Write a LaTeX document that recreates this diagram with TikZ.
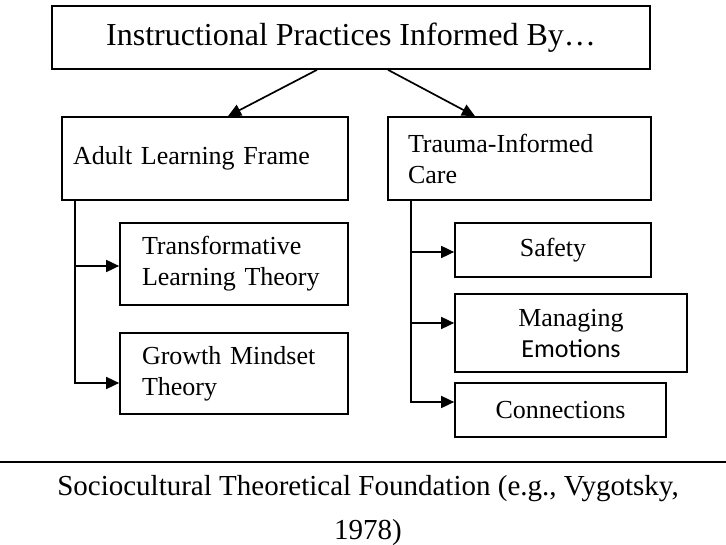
\documentclass[tikz,border=0pt]{standalone}
\usepackage{fontspec}
\setmainfont{Liberation Serif}
\newfontfamily\calibrifont{Carlito}
\usetikzlibrary{arrows.meta, positioning}

\begin{document}
\begin{tikzpicture}[x=1pt, y=-1pt,
		box/.style={rectangle, draw, line width=1.7pt, inner ysep=0pt,
				font=\fontsize{26}{31}\selectfont},
		leftbox/.style={box, align=left},
		midbox/.style={box, align=center},
		link/.style={line width=1.7pt, -{Triangle[length=13pt, width=12pt]}},
	]
	\useasboundingbox (0,0) rectangle (726,545);

	\node (top)      [midbox, minimum width=598, minimum height=63,
		font=\fontsize{32}{38}\selectfont] at (351,37.5) {Instructional Practices Informed By…};
	\node (adult)    [leftbox, text width=264, inner xsep=11, minimum height=83] at (205,158.5)
	{Adult Learning Frame};
	\node (trauma)   [leftbox, text width=223, inner xsep=20, minimum height=83] at (519.5,158.5)
	{Trauma-Informed\\Care};
	\node (transf)   [leftbox, text width=184, inner xsep=22, minimum height=82] at (234,264)
	{Transformative\\Learning Theory};
	\node (growth)   [leftbox, text width=184, inner xsep=22, minimum height=81] at (234,373.5)
	{Growth Mindset\\Theory};
	\node (safety)   [midbox, minimum width=196, minimum height=54] at (553,250) {Safety};
	\node (managing) [midbox, minimum width=232, minimum height=78] at (571,333)
	{Managing\\{\calibrifont Emotions}};
	\node (connect)  [midbox, minimum width=211, minimum height=54] at (560.5,410) {Connections};
	\node (base)     [midbox, minimum width=760, minimum height=98, anchor=north,
		font=\fontsize{29}{44}\selectfont] at (368,461)
	{Sociocultural Theoretical Foundation (e.g., Vygotsky,\\1978)};

	% title down to the two frames
	\draw [link] ([xshift=-34pt]top.south) -- ([xshift=23pt]adult.north);
	\draw [link] ([xshift=37pt]top.south) -- ([xshift=-44.5pt]trauma.north);

	% adult learning frame -> its theories
	\coordinate (adulttrunk) at ([xshift=14pt]adult.south west);
	\draw [link] (adulttrunk) |- ([yshift=-2pt]transf.west);
	\draw [link] (adulttrunk) |- ([yshift=-9.5pt]growth.west);

	% trauma-informed care -> its parts
	\coordinate (traumatrunk) at ([xshift=24pt]trauma.south west);
	\draw [link] (traumatrunk) |- ([yshift=-2pt]safety.west);
	\draw [link] (traumatrunk) |- ([yshift=10pt]managing.west);
	\draw [link] (traumatrunk) |- ([yshift=8pt]connect.west);
\end{tikzpicture}
\end{document}
